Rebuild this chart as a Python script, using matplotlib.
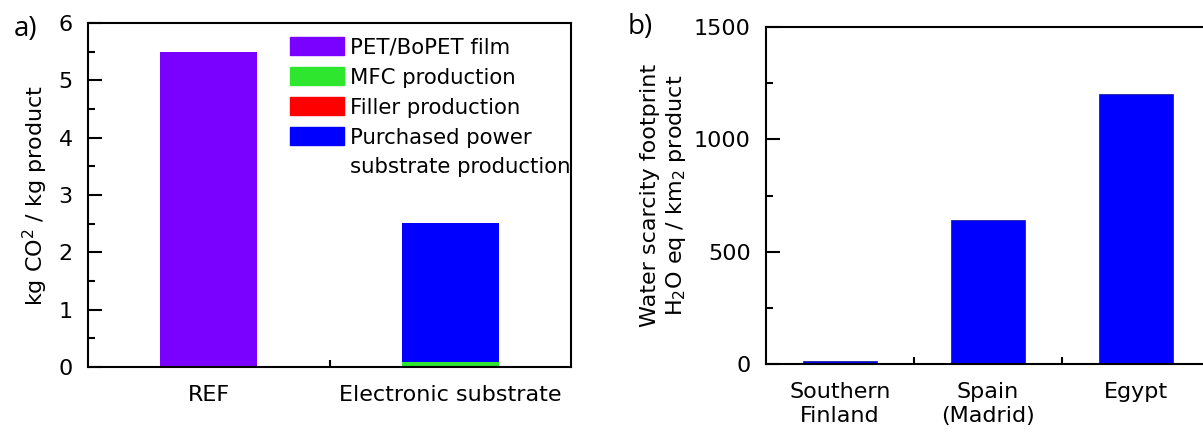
import numpy as np
import matplotlib.pyplot as plt
from matplotlib.patches import Patch
from matplotlib.ticker import MultipleLocator, FixedLocator

# panel a data (kg CO2 / kg product)
cats_a = ['REF', 'Electronic substrate']
pet = [5.5, 0.0]
mfc = [0.0, 0.08]
filler = [0.0, 0.005]
power = [0.0, 2.42]

# panel b data (water scarcity footprint)
cats_b = ['Southern\nFinland', 'Spain\n(Madrid)', 'Egypt']
water = [12, 640, 1200]

c_pet = '#7a00ff'
c_mfc = '#2ee62e'
c_fill = '#ff0000'
c_pow = '#0000ff'

fs = 16
plt.rcParams['font.family'] = 'DejaVu Sans'
plt.rcParams['font.size'] = fs

fig = plt.figure(figsize=(12.03, 4.32), dpi=100)
ax1 = fig.add_axes([88 / 1203, 65 / 432, 483 / 1203, 344 / 432])
ax2 = fig.add_axes([766 / 1203, 68 / 432, 444 / 1203, 337 / 432])


def style(ax):
    for s in ax.spines.values():
        s.set_linewidth(1.5)
    ax.tick_params(axis='y', which='major', direction='in', length=10, width=1.5, pad=11)
    ax.tick_params(axis='y', which='minor', direction='in', length=5, width=1.5)
    ax.tick_params(axis='x', which='major', length=0, pad=13)
    ax.tick_params(axis='x', which='minor', direction='in', length=5, width=1.5)
    ax.tick_params(labelsize=fs)


# ---- panel a ----
x = np.arange(len(cats_a))
w = 0.4
b0 = np.zeros(len(cats_a))
for vals, col in [(pet, c_pet), (mfc, c_mfc), (filler, c_fill), (power, c_pow)]:
    ax1.bar(x, vals, w, bottom=b0, color=col, linewidth=0)
    b0 = b0 + np.array(vals)
ax1.set_xlim(-0.5, 1.5)
ax1.set_ylim(0, 6)
ax1.set_xticks(x)
ax1.set_xticklabels(cats_a)
ax1.xaxis.set_minor_locator(FixedLocator([0.5]))
ax1.yaxis.set_major_locator(MultipleLocator(1))
ax1.yaxis.set_minor_locator(MultipleLocator(0.5))
style(ax1)
ax1.set_ylabel('kg CO$^2$ / kg product', fontsize=fs, labelpad=6)

handles = [Patch(color=c_pet), Patch(color=c_mfc), Patch(color=c_fill),
           Patch(color=c_pow), Patch(color='none')]
labels = ['PET/BoPET film', 'MFC production', 'Filler production',
          'Purchased power', 'substrate production']
ax1.legend(handles, labels, loc='upper left', bbox_to_anchor=(0.418, 0.958),
           frameon=False, borderpad=0, handlelength=2.55, handleheight=0.93,
           handletextpad=0.3, labelspacing=0.45, fontsize=15.3, borderaxespad=0)

# ---- panel b ----
xb = np.arange(len(cats_b))
ax2.bar(xb, water, 0.5, color=c_pow, edgecolor='#10108a', linewidth=0.5)
ax2.set_xlim(-0.5, 2.5)
ax2.set_ylim(0, 1500)
ax2.set_xticks(xb)
ax2.set_xticklabels(cats_b, linespacing=1.25)
ax2.xaxis.set_minor_locator(FixedLocator([0.5, 1.5]))
ax2.yaxis.set_major_locator(MultipleLocator(500))
ax2.yaxis.set_minor_locator(MultipleLocator(250))
style(ax2)
ax2.set_ylabel('Water scarcity footprint\nH$_2$O eq / km$_2$ product', fontsize=fs,
               labelpad=4, linespacing=1.25)

fig.text(26 / 1203, 1 - 29 / 432, 'a)', family='Open Sans', fontsize=20,
         ha='center', va='center')
fig.text(640 / 1203, 1 - 27 / 432, 'b)', family='Open Sans', fontsize=20,
         ha='center', va='center')

fig.savefig('out.png', dpi=100)
